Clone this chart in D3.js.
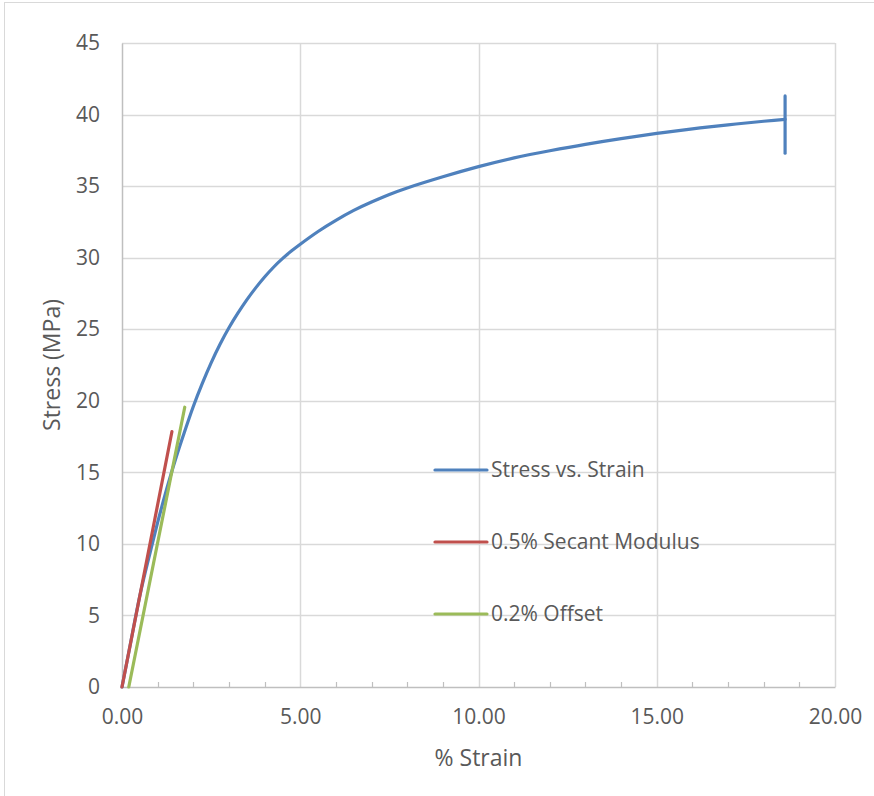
<!DOCTYPE html>
<html>
<head>
<meta charset="utf-8">
<script src="https://cdn.jsdelivr.net/npm/d3@7"></script>
<style>
  html, body { margin: 0; padding: 0; background: #ffffff; }
  svg { display: block; }
</style>
</head>
<body>
<svg id="chart" width="874" height="796"></svg>
<script>
// ---- Data ----
const strainValues = [0, 0.25, 0.5, 0.75, 1.0, 1.25, 1.5, 1.75, 2.0, 2.25, 2.5, 2.75, 3.0, 3.25, 3.5, 3.75, 4.0, 4.25, 4.5, 4.75, 5.0, 5.5, 6.0, 6.5, 7.0, 7.5, 8.0, 9.0, 10.0, 11.0, 12.0, 13.0, 14.0, 15.0, 16.0, 17.0, 18.0, 18.6];
const stressValues = [0, 3.2, 6.37, 9.0, 11.5, 13.8, 15.9, 17.8, 19.6, 21.2, 22.65, 23.95, 25.1, 26.12, 27.05, 27.89, 28.65, 29.33, 29.93, 30.46, 30.94, 31.83, 32.61, 33.3, 33.89, 34.41, 34.87, 35.65, 36.36, 36.97, 37.47, 37.92, 38.32, 38.68, 39.0, 39.28, 39.53, 39.66];
const breakStrain = [18.6, 18.6];
const breakStress = [41.3, 37.3];
const secantStrain = [0, 1.40];
const secantStress = [0, 17.84];
const offsetStrain = [0.19, 1.76];
const offsetStress = [0, 19.55];
const seriesNames = ["Stress vs. Strain", "0.5% Secant Modulus", "0.2% Offset"];
const seriesColors = ["#4F81BD", "#C0504D", "#9BBB59"];
const xTickValues = [0, 5, 10, 15, 20];
const xMinorTicks = [1, 2, 3, 4, 6, 7, 8, 9, 11, 12, 13, 14, 16, 17, 18, 19];
const yTickValues = [0, 5, 10, 15, 20, 25, 30, 35, 40, 45];
const xTitle = "% Strain";
const yTitle = "Stress (MPa)";

// ---- Layout ----
const svg = d3.select("#chart");
const plot = { left: 122, right: 835, top: 43, bottom: 687 };
const font = "'Open Sans', 'Noto Sans', sans-serif";
const textColor = "#595959";

const x = d3.scaleLinear().domain([0, 20]).range([plot.left, plot.right]);
const y = d3.scaleLinear().domain([0, 45]).range([plot.bottom, plot.top]);

// outer chart border
svg.append("rect")
  .attr("x", 4.5).attr("y", 2.5)
  .attr("width", 900).attr("height", 900)
  .attr("fill", "none").attr("stroke", "#d9d9d9").attr("stroke-width", 1);

// gridlines
const grid = svg.append("g");
grid.selectAll("line.h").data(yTickValues.filter(d => d > 0)).join("line")
  .attr("x1", plot.left).attr("x2", plot.right)
  .attr("y1", d => Math.round(y(d)) + 0.5).attr("y2", d => Math.round(y(d)) + 0.5)
  .attr("stroke", "#d9d9d9").attr("stroke-width", 1.5);
grid.selectAll("line.v").data(xTickValues.filter(d => d > 0)).join("line")
  .attr("y1", plot.top).attr("y2", plot.bottom)
  .attr("x1", d => Math.round(x(d)) + 0.5).attr("x2", d => Math.round(x(d)) + 0.5)
  .attr("stroke", "#d9d9d9").attr("stroke-width", 1.5);

// x axis
const xAxis = d3.axisBottom(x).tickValues(xTickValues).tickSize(0).tickPadding(22)
  .tickFormat(d3.format(".2f"));
const gx = svg.append("g").attr("transform", `translate(0,${plot.bottom})`).call(xAxis);
gx.select(".domain").attr("stroke", "#bfbfbf").attr("stroke-width", 1.5);
gx.selectAll("text").attr("font-family", font).attr("font-size", 21).attr("fill", textColor);

// minor ticks (inside, upward)
svg.append("g").selectAll("line").data(xMinorTicks).join("line")
  .attr("x1", d => Math.round(x(d)) + 0.5).attr("x2", d => Math.round(x(d)) + 0.5)
  .attr("y1", plot.bottom).attr("y2", plot.bottom - 5)
  .attr("stroke", "#bfbfbf").attr("stroke-width", 1.2);

// y axis
const yAxis = d3.axisLeft(y).tickValues(yTickValues).tickSize(0).tickPadding(22)
  .tickFormat(d3.format("d"));
const gy = svg.append("g").attr("transform", `translate(${plot.left},0)`).call(yAxis);
gy.select(".domain").attr("stroke", "#bfbfbf").attr("stroke-width", 1.5);
gy.selectAll("text").attr("font-family", font).attr("font-size", 21).attr("fill", textColor);

// axis titles
svg.append("text").attr("x", (plot.left + plot.right) / 2).attr("y", 766)
  .attr("text-anchor", "middle").attr("font-family", font).attr("font-size", 23)
  .attr("fill", textColor).text(xTitle);
svg.append("text")
  .attr("transform", `translate(60,${(plot.top + plot.bottom) / 2}) rotate(-90)`)
  .attr("text-anchor", "middle").attr("font-family", font).attr("font-size", 23)
  .attr("fill", textColor).text(yTitle);

// series
const smooth = d3.line().x(d => x(d[0])).y(d => y(d[1])).curve(d3.curveNatural);
const straight = d3.line().x(d => x(d[0])).y(d => y(d[1]));
const g = svg.append("g").attr("fill", "none").attr("stroke-width", 3.2)
  .attr("stroke-linecap", "round").attr("stroke-linejoin", "round");
g.append("path").attr("d", smooth(d3.zip(strainValues, stressValues))).attr("stroke", seriesColors[0]);
g.append("path").attr("d", straight(d3.zip(breakStrain, breakStress))).attr("stroke", seriesColors[0]);
g.append("path").attr("d", straight(d3.zip(secantStrain, secantStress))).attr("stroke", seriesColors[1]);
g.append("path").attr("d", straight(d3.zip(offsetStrain, offsetStress))).attr("stroke", seriesColors[2]);

// legend
const legend = svg.append("g");
const legendY = [470, 542, 614];
seriesNames.forEach((name, i) => {
  legend.append("line")
    .attr("x1", 435).attr("x2", 487)
    .attr("y1", legendY[i]).attr("y2", legendY[i])
    .attr("stroke", seriesColors[i]).attr("stroke-width", 3.2)
    .attr("stroke-linecap", "round");
  legend.append("text")
    .attr("x", 491).attr("y", legendY[i]).attr("dy", "0.35em")
    .attr("font-family", font).attr("font-size", 21).attr("fill", textColor)
    .text(name);
});
</script>
</body>
</html>
